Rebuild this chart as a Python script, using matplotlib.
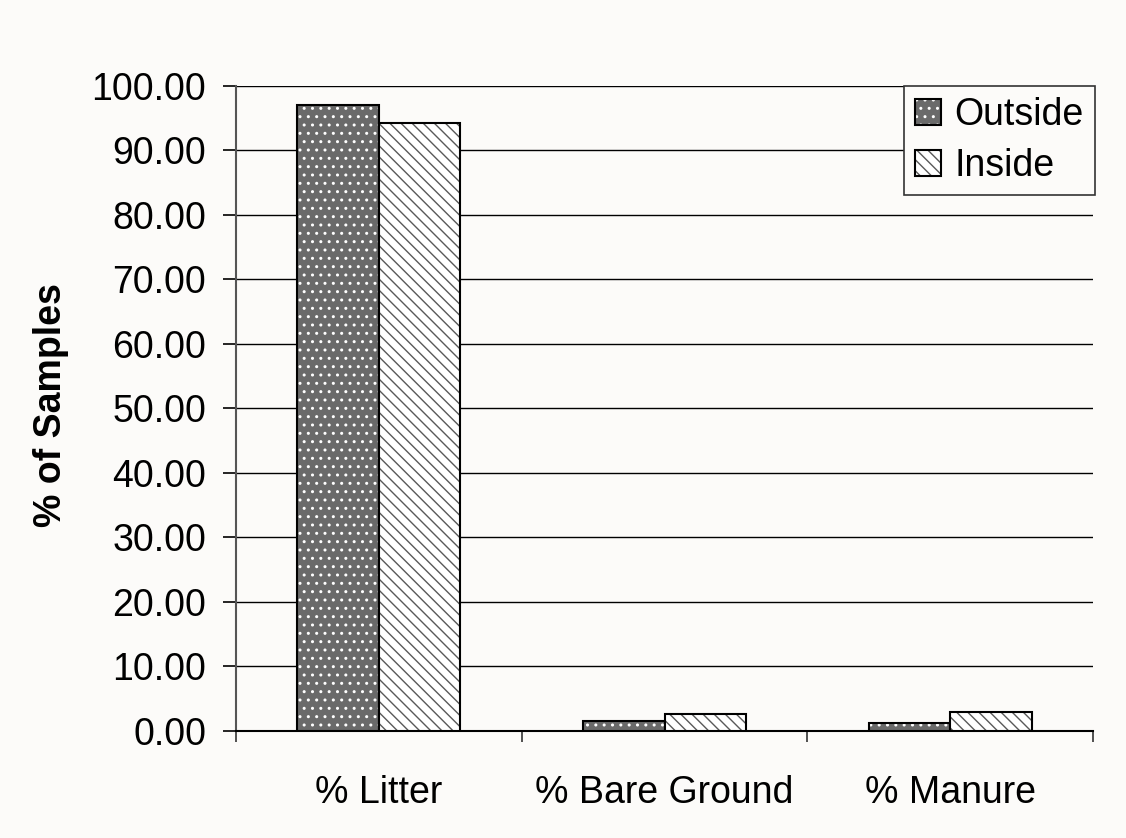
import matplotlib.pyplot as plt
import numpy as np

plt.rcParams['font.family'] = ['Liberation Sans', 'DejaVu Sans']

# Dane
kategorie = ["% Litter", "% Bare Ground", "% Manure"]
outside = [97.0, 1.55, 1.3]
inside = [94.3, 2.6, 3.0]
yticks = np.arange(0, 101, 10)

bg = '#fcfbf9'
fs = 27
fig = plt.figure(figsize=(11.26, 8.38), dpi=100, facecolor=bg)
ax = fig.add_axes([0.2096, 0.1277, 0.7611, 0.7697])
ax.set_facecolor(bg)

x = np.arange(len(kategorie))
w = 0.285

b1 = ax.bar(x - w / 2, outside, w, color='#6a6a6a', edgecolor='black',
            linewidth=1.5, hatch='..', label='Outside', zorder=3)
b2 = ax.bar(x + w / 2, inside, w, color='white', edgecolor='black',
            linewidth=1.5, hatch='\\\\\\', label='Inside', zorder=3)
# kolory kreskowania
for p in b1:
    p._hatch_color = (1, 1, 1, 1)
for p in b2:
    p._hatch_color = (0.35, 0.35, 0.35, 1)

ax.set_xlim(-0.5, 2.5)
ax.set_ylim(0, 100)
ax.set_yticks(yticks)
ax.set_yticklabels([f"{v:.2f}" for v in yticks], fontsize=fs)
ax.yaxis.grid(True, color='black', linewidth=1.0, zorder=0)
ax.set_axisbelow(True)

ax.set_xticks([-0.5, 0.5, 1.5, 2.5])
ax.set_xticklabels([])
ax.set_xticks(x, minor=True)
ax.set_xticklabels(kategorie, minor=True, fontsize=fs)
ax.tick_params(axis='x', which='minor', length=0, pad=32)
ax.tick_params(axis='x', which='major', length=8, width=1.2, color='#333333')
ax.tick_params(axis='y', length=9.5, width=1.2, pad=12)

for s in ['top', 'right']:
    ax.spines[s].set_visible(False)
ax.spines['left'].set_color('#555555')
ax.spines['left'].set_linewidth(1.5)
ax.spines['bottom'].set_linewidth(1.5)

fig.text(0.045, 0.517, "% of Samples", rotation=90, fontsize=fs,
         fontweight='bold', ha='center', va='center')

leg = ax.legend(loc='upper right', bbox_to_anchor=(1.0023, 1.0), fontsize=fs,
                frameon=True, fancybox=False, shadow=False, handlelength=0.68,
                handleheight=0.68, handletextpad=0.37, borderpad=0.3,
                labelspacing=0.4, borderaxespad=0)
leg.get_frame().set_edgecolor('#333333')
leg.get_frame().set_linewidth(1.2)
leg.get_frame().set_facecolor(bg)
leg.get_frame().set_alpha(1)

fig.savefig("out.png", dpi=100, facecolor=bg)
